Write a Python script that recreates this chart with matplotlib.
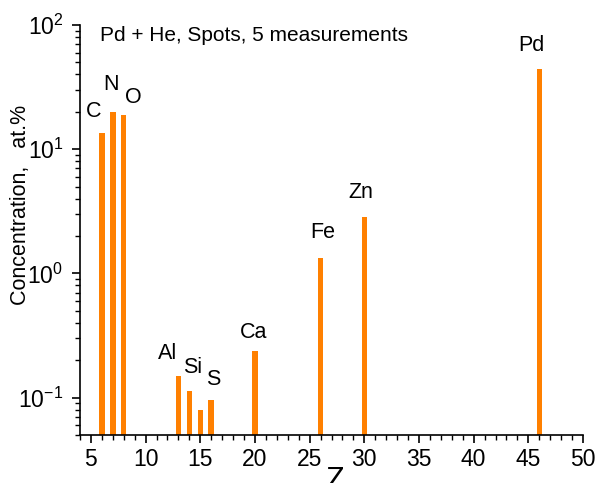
import matplotlib
matplotlib.use("Agg")
import matplotlib.pyplot as plt
from matplotlib.ticker import LogLocator, MultipleLocator, NullFormatter

plt.rcParams["font.family"] = ["Liberation Sans", "DejaVu Sans"]
plt.rcParams["mathtext.fontset"] = "custom"
plt.rcParams["mathtext.rm"] = "Liberation Sans"
plt.rcParams["mathtext.it"] = "Liberation Sans"

# data
elements = ["C", "N", "O", "Al", "Si", "P", "S", "Ca", "Fe", "Zn", "Pd"]
z_values = [6, 7, 8, 13, 14, 15, 16, 20, 26, 30, 46]
concentration = [13.5, 20.0, 18.9, 0.147, 0.112, 0.0786, 0.0946, 0.238, 1.34, 2.85, 44.3]
# label offsets above bar top (dx in Z units, dy in decades); P is unlabeled
label_offsets = {
    "C": (-0.75, 0.17), "N": (-0.2, 0.22), "O": (0.9, 0.14),
    "Al": (-1.0, 0.19), "Si": (0.3, 0.19), "S": (0.2, 0.17),
    "Ca": (-0.1, 0.15), "Fe": (0.2, 0.2), "Zn": (-0.3, 0.2), "Pd": (-0.7, 0.19),
}

fig = plt.figure(figsize=(5.96, 4.83), dpi=100)
ax = fig.add_axes([80 / 596, 1 - 435 / 483, (583 - 80) / 596, (435 - 25) / 483])

ax.bar(z_values, concentration, width=0.5, color="#ff8000", bottom=1e-3)
ax.set_yscale("log")
ax.set_xlim(4, 50)
ax.set_ylim(0.05, 100)

for name, z, c in zip(elements, z_values, concentration):
    if name not in label_offsets:
        continue
    dx, dy = label_offsets[name]
    ax.text(z + dx, c * 10 ** dy, name, ha="center", va="center", fontsize=15.5)

ax.text(0.04, 0.975, "Pd + He, Spots, 5 measurements", transform=ax.transAxes,
        ha="left", va="center", fontsize=15)

for side in ("top", "right"):
    ax.spines[side].set_visible(False)
for side in ("left", "bottom"):
    ax.spines[side].set_linewidth(1.2)

ax.xaxis.set_major_locator(MultipleLocator(5))
ax.xaxis.set_minor_locator(MultipleLocator(1))
ax.yaxis.set_major_locator(LogLocator(base=10))
ax.yaxis.set_minor_locator(LogLocator(base=10, subs=range(2, 10)))
ax.yaxis.set_minor_formatter(NullFormatter())
ax.tick_params(which="major", direction="out", length=6, width=1.2, labelsize=16.5, pad=3)
ax.tick_params(axis="y", which="major", pad=6)
ax.tick_params(which="minor", direction="out", length=3.5, width=1.0)

ax.set_ylabel("Concentration,   at.%", fontsize=15.5)
ax.yaxis.set_label_coords(-0.098, 0.56)
fig.text(335 / 596, 1 - 466 / 483, "Z", ha="center", va="top", fontsize=22)

fig.savefig("out.png", dpi=100)
